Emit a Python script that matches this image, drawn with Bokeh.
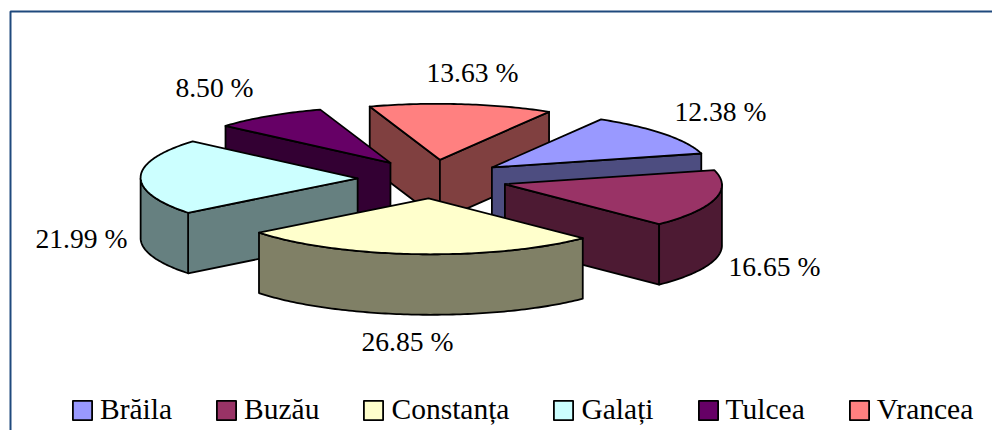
import math
from bokeh.embed import file_html
from bokeh.resources import INLINE
from bokeh.plotting import figure
from bokeh.models import Range1d, Legend, LegendItem
from bokeh.core.properties import value

regions = ["Brăila", "Buzău", "Constanța", "Galați", "Tulcea", "Vrancea"]
shares = [12.38, 16.65, 26.85, 21.99, 8.50, 13.63]
top_colors = ["#9999FF", "#993366", "#FFFFCC", "#CCFFFF", "#660066", "#FF8080"]
side_colors = ["#4D4D80", "#4D1A33", "#808066", "#668080", "#330033", "#804040"]

# layout (pixels)
CX, CY = 432.0, 178.5
RX, RY = 217.0, 56.0
DEPTH = 60.5
EXPLODE = 0.345
START = 31.0
SHEAR = 0.054
DRAW_ORDER = [5, 4, 0, 3, 1, 2]
label_x = [720, 774, 407, 81, 214, 472]
label_y = [111, 266, 341, 238, 87, 72]
FONT = "Liberation Serif"
W, H = 992, 430

p = figure(width=W, height=H, output_backend="svg", toolbar_location=None,
           x_range=Range1d(0, W), y_range=Range1d(H, 0),
           min_border=0, outline_line_color=None, background_fill_color="white",
           border_fill_color="white")
p.axis.visible = False
p.grid.visible = False


def pt(cx, cy, deg, radial=1.0):
    a = math.radians(deg)
    x = cx + radial * RX * math.sin(a)
    y = cy - radial * RY * math.cos(a)
    return x + SHEAR * (y - CY), y


def arc(cx, cy, a0, a1, dy=0.0):
    n = max(2, int(abs(a1 - a0)) + 1)
    xs, ys = [], []
    for i in range(n + 1):
        x, y = pt(cx, cy, a0 + (a1 - a0) * i / n)
        xs.append(x)
        ys.append(y + dy)
    return xs, ys


starts = []
acc = START
for s in shares:
    starts.append(acc)
    acc += s * 3.6

LINE = 1.8
items = {}
for i in DRAW_ORDER:
    a0 = starts[i]
    a1 = a0 + shares[i] * 3.6
    mid = (a0 + a1) / 2
    ox, oy = CX + EXPLODE * RX * math.sin(math.radians(mid)), CY - EXPLODE * RY * math.cos(math.radians(mid))
    ax, ay = pt(ox, oy, 0, 0.0)

    walls = []
    if math.sin(math.radians(a0)) < 0:
        ex, ey = pt(ox, oy, a0)
        walls.append(([ax, ex, ex, ax], [ay, ey, ey + DEPTH, ay + DEPTH]))
    if math.sin(math.radians(a1)) > 0:
        ex, ey = pt(ox, oy, a1)
        walls.append(([ax, ex, ex, ax], [ay, ey, ey + DEPTH, ay + DEPTH]))
    # front part of the outer wall: where the rim runs on the viewer's side
    for lo, hi in ((90, 270), (450, 630)):
        f0, f1 = max(a0, lo), min(a1, hi)
        if f1 > f0:
            tx, ty = arc(ox, oy, f0, f1)
            bx, by = arc(ox, oy, f1, f0, DEPTH)
            walls.append((tx + bx, ty + by))
    for wx, wy in walls:
        p.patch(wx, wy, fill_color=side_colors[i], line_color="black",
                line_width=LINE, line_join="round")
    rx_, ry_ = arc(ox, oy, a0, a1)
    r = p.patch([ax] + rx_, [ay] + ry_, fill_color=top_colors[i],
                line_color="black", line_width=LINE, line_join="round")
    items[i] = r

for i, s in enumerate(shares):
    p.text([label_x[i]], [label_y[i]], text=[f"{s:.2f} %"], text_font=value(FONT),
           text_font_size="27.6px", text_align="center", text_baseline="middle",
           text_color="black")

legend = Legend(
    items=[LegendItem(label=regions[i], renderers=[items[i]]) for i in range(len(regions))],
    orientation="horizontal", location=(70, 4), border_line_color=None,
    background_fill_alpha=0, label_text_font=FONT, label_text_font_size="29.5px",
    label_text_color="black", glyph_width=24, glyph_height=24, label_standoff=6,
    spacing=42, padding=0, margin=0,
)
p.add_layout(legend, "center")

# outer frame (its right and bottom sides lie outside the picture)
p.patch([10, 1100, 1100, 10], [11, 11, 500, 500], fill_alpha=0, line_color="#1F497D", line_width=2)

open("out.html", "w").write(file_html(p, INLINE))
